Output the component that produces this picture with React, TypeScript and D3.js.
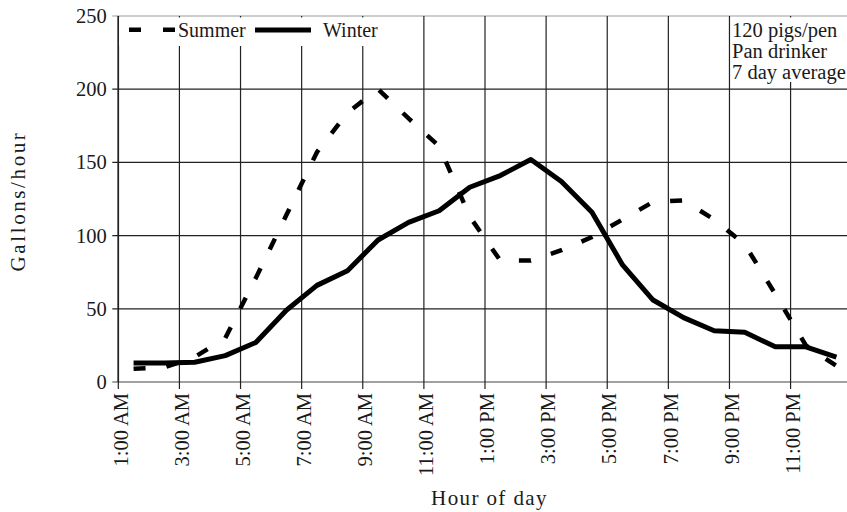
import * as d3 from "d3";

// half-hour marks, one reading per hour
const hours = [
  1.5, 2.5, 3.5, 4.5, 5.5, 6.5, 7.5, 8.5, 9.5, 10.5, 11.5, 12.5, 13.5, 14.5,
  15.5, 16.5, 17.5, 18.5, 19.5, 20.5, 21.5, 22.5, 23.5, 24.5,
];
const summer = [
  9, 10, 17, 30, 71, 114, 157, 184, 200, 180, 161, 113, 83, 83, 90, 99, 111,
  123, 124, 111, 94, 60, 25, 11,
];
const winter = [
  13, 13, 13.5, 18, 27, 49, 66, 76, 97, 109, 117, 133, 141, 152, 137, 116, 80,
  56, 44, 35, 34, 24, 24, 17,
];
const yTicks = [0, 50, 100, 150, 200, 250];
const xTickHours = [1, 3, 5, 7, 9, 11, 13, 15, 17, 19, 21, 23];
const xTickLabels = [
  "1:00 AM",
  "3:00 AM",
  "5:00 AM",
  "7:00 AM",
  "9:00 AM",
  "11:00 AM",
  "1:00 PM",
  "3:00 PM",
  "5:00 PM",
  "7:00 PM",
  "9:00 PM",
  "11:00 PM",
];
const notes = ["120 pigs/pen", "Pan drinker", "7 day average"];

const W = 847;
const H = 512;
const left = 118.3;
const right = 851.7;
const top = 16;
const bottom = 382;
const font = "'Liberation Serif', 'Times New Roman', serif";
const ink = "#1a1a1a";

const App = () => {
  const x = d3.scaleLinear().domain([1, 25]).range([left, right]);
  const y = d3.scaleLinear().domain([0, 250]).range([bottom, top]);

  const line = d3
    .line<number>()
    .x((_, i) => x(hours[i]))
    .y((d) => y(d));

  return (
    <svg
      width={W}
      height={H}
      style={{ position: "absolute", left: 0, top: 0, background: "#fff" }}
      fontFamily={font}
    >
      {/* grid */}
      <g stroke="#222" strokeWidth={1.2}>
        {yTicks.map((t) => (
          <line
            key={"h" + t}
            x1={left - 6}
            x2={right}
            y1={y(t)}
            y2={y(t)}
            stroke={t === 250 ? "#999" : t === 0 ? "#444" : "#222"}
          />
        ))}
        {xTickHours.map((h) => (
          <line key={"v" + h} x1={x(h)} x2={x(h)} y1={top} y2={bottom + 7} />
        ))}
        <line x1={left} x2={left} y1={top} y2={bottom} strokeWidth={1.6} />
      </g>

      {/* legend and note boxes sit over the grid */}
      <rect x={119.2} y={17.5} width={273} height={28.5} fill="#fff" />
      <rect x={731.6} y={17.5} width={120} height={64.5} fill="#fff" />

      {/* series */}
      <path
        d={line(summer) || ""}
        fill="none"
        stroke="#000"
        strokeWidth={4.5}
        strokeDasharray="12 21"
      />
      <path
        d={line(winter) || ""}
        fill="none"
        stroke="#000"
        strokeWidth={5}
        strokeLinejoin="round"
      />

      {/* y tick labels */}
      <g fontSize={20.5} fill={ink} textAnchor="end">
        {yTicks.map((t) => (
          <text key={t} x={106.7} y={y(t)} dy="0.34em">
            {t}
          </text>
        ))}
      </g>

      {/* x tick labels */}
      <g fontSize={20.5} fill={ink} textAnchor="end">
        {xTickHours.map((h, i) => (
          <text
            key={h}
            transform={`translate(${x(h)},${bottom + 11}) rotate(-90)`}
            dy="0.45em"
          >
            {xTickLabels[i]}
          </text>
        ))}
      </g>

      {/* legend */}
      <line
        x1={129}
        x2={175}
        y1={29.7}
        y2={29.7}
        stroke="#000"
        strokeWidth={4.5}
        strokeDasharray="12 22"
      />
      <text x={178} y={36.7} fontSize={20} fill={ink}>
        Summer
      </text>
      <line x1={255} x2={311} y1={30} y2={30} stroke="#000" strokeWidth={5} />
      <text x={323} y={36.7} fontSize={20} fill={ink}>
        Winter
      </text>

      {/* notes */}
      <g fontSize={20.5} fill={ink}>
        {notes.map((n, i) => (
          <text key={n} x={732} y={37 + i * 21}>
            {n}
          </text>
        ))}
      </g>

      {/* axis titles */}
      <text
        transform={`translate(25,201) rotate(-90)`}
        textAnchor="middle"
        fontSize={21}
        letterSpacing={2.6}
        fill={ink}
      >
        Gallons/hour
      </text>
      <text
        x={489.5}
        y={505}
        textAnchor="middle"
        fontSize={21}
        letterSpacing={1.4}
        fill={ink}
      >
        Hour of day
      </text>
    </svg>
  );
};

export default App;
